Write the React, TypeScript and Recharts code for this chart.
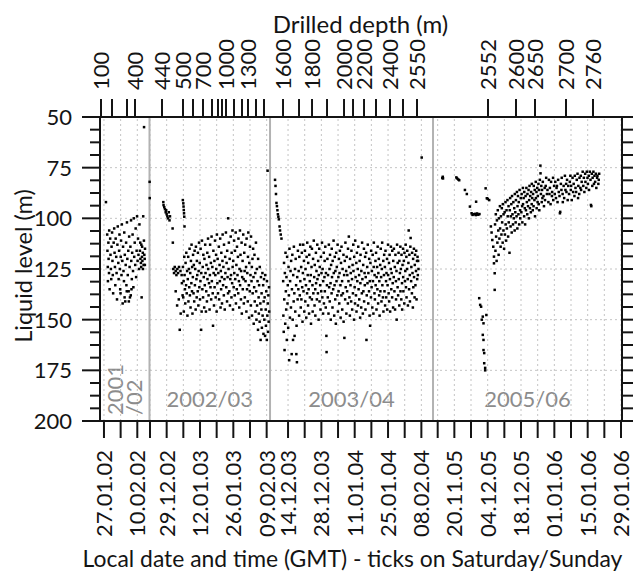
import React from 'react';
import { ScatterChart, Scatter, XAxis, YAxis, ReferenceLine, ReferenceArea } from 'recharts';

const FONT = 'Lato, "Open Sans", "DejaVu Sans", sans-serif';
const INK = '#141414';
const GRID = '#c4c4c4';
const SEP = '#b2b2b2';
const SEASON_INK = '#8c8c8c';
const DAY = 86400000;

// Plotted time windows of the four drilling seasons (UTC)
const seasonNames = ['2001/02', '2002/03', '2003/04', '2005/06'];
const seasonStarts = [Date.UTC(2002, 0, 25, 8), Date.UTC(2002, 11, 21, 19), Date.UTC(2003, 11, 6, 10, 30), Date.UTC(2005, 10, 11, 1)];
const seasonEnds = [Date.UTC(2002, 1, 15, 3), Date.UTC(2003, 1, 10, 10), Date.UTC(2004, 1, 12, 21, 30), Date.UTC(2006, 0, 29, 10)];

// Weekly ticks (Saturday/Sunday midnight) and the ones that carry a label
const weeklyTicks = ['27.01.02', '03.02.02', '10.02.02', '22.12.02', '29.12.02', '05.01.03', '12.01.03', '19.01.03', '26.01.03', '02.02.03', '09.02.03', '14.12.03', '21.12.03', '28.12.03', '04.01.04', '11.01.04', '18.01.04', '25.01.04', '01.02.04', '08.02.04', '13.11.05', '20.11.05', '27.11.05', '04.12.05', '11.12.05', '18.12.05', '25.12.05', '01.01.06', '08.01.06', '15.01.06', '22.01.06', '29.01.06'];
const labeledDates = ['27.01.02', '10.02.02', '29.12.02', '12.01.03', '26.01.03', '09.02.03', '14.12.03', '28.12.03', '11.01.04', '25.01.04', '08.02.04', '20.11.05', '04.12.05', '18.12.05', '01.01.06', '15.01.06', '29.01.06'];

// Drilled depth (m) reached: season index and day within the season window
const depthValues = [100, 200, 300, 400, 440, 500, 600, 700, 800, 900, 950, 1000, 1100, 1200, 1300, 1400, 1500, 1600, 1700, 1800, 1900, 2000, 2100, 2200, 2300, 2400, 2500, 2550, 2552, 2600, 2650, 2700, 2760];
const depthSeason = [0, 0, 0, 0, 1, 1, 1, 1, 1, 1, 1, 1, 1, 1, 1, 1, 1, 2, 2, 2, 2, 2, 2, 2, 2, 2, 2, 2, 3, 3, 3, 3, 3];
const depthDay = [0.42, 5.04, 11.34, 14.7, 5.25, 14.07, 18.27, 22.47, 26.25, 28.77, 30.45, 32.13, 35.49, 38.85, 41.37, 44.73, 48.09, 5.46, 12.18, 17.64, 23.94, 31.08, 34.86, 39.48, 44.52, 50.4, 55.86, 61.74, 23.1, 34.86, 42.84, 55.86, 67.2];
const labeledDepths = [100, 400, 440, 500, 700, 1000, 1300, 1600, 1800, 2000, 2200, 2400, 2550, 2552, 2600, 2650, 2700, 2760];

// Liquid level axis
const levelMajorTicks = [50, 75, 100, 125, 150, 175, 200];
const levelMinorDivisions = 4;

// Measurements: [day within season window, liquid level (m)]
const season1Points: [number, number][] = [
  [2.5, 92],
  [3.02, 108], [3.13, 116], [3.27, 124], [3.33, 131], [3.52, 112], [3.61, 120], [3.78, 127], [3.86, 106], [4.04, 135],
  [4.27, 110], [4.41, 118], [4.58, 125], [4.72, 130], [4.86, 114], [5.08, 107], [5.23, 121], [5.37, 128], [5.52, 137], [5.74, 112],
  [5.96, 105], [6.12, 117], [6.27, 124], [6.43, 133], [6.58, 110], [6.81, 119], [6.97, 127], [7.14, 140], [7.31, 113], [7.46, 104],
  [7.69, 122], [7.83, 130], [8.02, 116], [8.17, 108], [8.33, 125], [8.48, 135], [8.62, 137], [8.71, 119], [8.84, 111], [9.03, 128], [9.18, 103],
  [9.37, 121], [9.52, 142], [9.68, 114], [9.87, 126], [10.06, 131], [10.19, 107], [10.33, 139], [10.42, 118], [10.61, 141], [10.79, 123], [10.97, 112],
  [11.09, 133], [11.24, 136], [11.32, 102], [11.48, 120], [11.66, 128], [11.88, 116], [12.03, 136], [12.11, 141], [12.24, 109], [12.43, 124], [12.58, 139], [12.77, 114], [12.92, 138],
  [13.04, 101], [13.13, 121], [13.22, 135], [13.36, 130], [13.51, 117], [13.69, 108], [13.87, 126], [14.02, 134], [14.18, 100], [14.37, 119], [14.58, 112],
  [14.79, 123], [14.98, 105], [15.17, 129], [15.38, 116], [15.57, 99], [15.79, 121], [15.97, 110], [16.16, 118], [16.38, 125], [16.57, 103],
  [16.77, 116], [16.96, 120], [17.18, 122], [17.36, 113], [17.49, 139], [17.63, 119], [17.81, 121], [17.97, 117], [18.15, 99], [18.31, 123], [18.5, 55], [18.62, 118], [18.77, 120], [18.9, 115],
  [16.9, 112], [17.3, 124], [17.7, 114], [18.05, 125], [18.45, 111], [18.85, 123],
];

const season2Points: [number, number][] = [
  [0.05, 82], [0.1, 90],
  [5.8, 92], [5.9, 93.5], [6.2, 94.5], [6.5, 95.5], [6.8, 97], [7.0, 96], [7.2, 98], [7.5, 99], [7.8, 100], [8.1, 97], [8.4, 101], [8.6, 99],
  [9.7, 105], [9.8, 112],
  [10.0, 125], [10.3, 127], [10.6, 124], [11.0, 126], [11.3, 128], [11.7, 125], [12.0, 127], [12.4, 124], [13.0, 126], [13.5, 128],
  [11.0, 136], [11.6, 143], [12.3, 140], [12.7, 155], [13.1, 147], [13.6, 132], [13.9, 138],
  [14.0, 91], [14.2, 92.6], [14.3, 94.2], [14.4, 95.9], [14.5, 97.5], [14.6, 99.2], [14.7, 104],
  [14.05, 124], [14.18, 139], [14.33, 131], [14.41, 146], [14.6, 119], [14.74, 128], [14.88, 135],
  [15.02, 142], [15.15, 122], [15.37, 133], [15.46, 117], [15.63, 137], [15.8, 126], [15.93, 148],
  [16.08, 130], [16.26, 119], [16.35, 141], [16.52, 125], [16.69, 134], [16.83, 115], [16.97, 138],
  [17.11, 127], [17.24, 144], [17.4, 121], [17.58, 132], [17.66, 113], [17.85, 136], [17.92, 124],
  [18.04, 147], [18.21, 129], [18.3, 118], [18.49, 137], [18.62, 123], [18.78, 141], [18.95, 116],
  [19.07, 133], [19.19, 125], [19.38, 145], [19.5, 114], [19.71, 130], [19.82, 139], [19.9, 121],
  [20.06, 128], [20.25, 136], [20.33, 117], [20.52, 143], [20.64, 126], [20.8, 112], [20.94, 134],
  [21.1, 122], [21.21, 140], [21.39, 131], [21.47, 115], [21.68, 155], [21.75, 127], [21.9, 146],
  [22.03, 111], [22.2, 135], [22.36, 124], [22.5, 139], [22.61, 118], [22.79, 129], [22.97, 144],
  [23.08, 120], [23.22, 133], [23.4, 113], [23.53, 127], [23.7, 146], [23.84, 136], [23.93, 123],
  [24.12, 141], [24.28, 117], [24.35, 130], [24.58, 110], [24.66, 125], [24.81, 138], [24.99, 132],
  [25.05, 119], [25.23, 145], [25.37, 128], [25.46, 113], [25.61, 134], [25.78, 122], [25.9, 140],
  [26.07, 109], [26.19, 131], [26.4, 124], [26.55, 137], [26.68, 153], [26.83, 116], [26.94, 127],
  [27.09, 143], [27.26, 121], [27.34, 134], [27.51, 111], [27.65, 128], [27.8, 139], [27.97, 118],
  [28.04, 125], [28.2, 146], [28.31, 108], [28.5, 132], [28.62, 120], [28.77, 137], [28.9, 127],
  [29.12, 114], [29.25, 140], [29.43, 123], [29.56, 131], [29.69, 110], [29.84, 144], [29.96, 126],
  [30.08, 135], [30.17, 117], [30.38, 129], [30.45, 142], [30.64, 121], [30.72, 108], [30.91, 133],
  [31.03, 124], [31.22, 138], [31.29, 113], [31.48, 130], [31.6, 145], [31.79, 119], [31.88, 127],
  [32.1, 107], [32.24, 134], [32.39, 122], [32.57, 141], [32.63, 116], [32.8, 129], [32.98, 137],
  [33.06, 100], [33.2, 125], [33.33, 112], [33.52, 136], [33.67, 120], [33.79, 143], [33.94, 130],
  [34.11, 109], [34.23, 128], [34.42, 139], [34.5, 117], [34.7, 132], [34.84, 106], [34.92, 124],
  [35.07, 145], [35.16, 121], [35.35, 134], [35.53, 111], [35.61, 127], [35.82, 138], [35.9, 116],
  [36.02, 130], [36.2, 107], [36.31, 142], [36.49, 123], [36.66, 135], [36.75, 114], [36.96, 128],
  [37.13, 119], [37.28, 137], [37.36, 110], [37.55, 131], [37.7, 144], [37.81, 125], [37.99, 106],
  [38.05, 133], [38.22, 118], [38.4, 140], [38.47, 126], [38.68, 112], [38.77, 147], [38.93, 129],
  [39.1, 121], [39.18, 135], [39.37, 108], [39.53, 130], [39.62, 142], [39.8, 117], [39.95, 126],
  [40.04, 139], [40.21, 113], [40.33, 131], [40.56, 124], [40.69, 146], [40.78, 110], [40.97, 135],
  [41.08, 127], [41.27, 141], [41.35, 119], [41.5, 107], [41.71, 133], [41.83, 149], [41.91, 122],
  [42.12, 136], [42.2, 114], [42.41, 128], [42.58, 143], [42.64, 109], [42.85, 131], [42.99, 124],
  [43.06, 148], [43.25, 120], [43.33, 137], [43.52, 115], [43.68, 129], [43.77, 152], [43.96, 134],
  [44.09, 118], [44.2, 141], [44.44, 127], [44.5, 146], [44.71, 112], [44.8, 136], [44.93, 150],
  [45.11, 125], [45.19, 143], [45.38, 131], [45.57, 155], [45.62, 120], [45.83, 139], [45.92, 147],
  [46.03, 133], [46.26, 151], [46.32, 124], [46.55, 142], [46.67, 160], [46.8, 129], [46.98, 145],
  [47.08, 137], [47.2, 154], [47.43, 127], [47.51, 148], [47.73, 133], [47.86, 157], [47.95, 141],
  [48.1, 130], [48.23, 150], [48.36, 139], [48.54, 158], [48.61, 128], [48.82, 145], [48.9, 153],
  [49.05, 136], [49.27, 160], [49.33, 131], [49.49, 148], [49.68, 142], [49.77, 156], [49.92, 138],
  [50.05, 151], [50.18, 134], [50.26, 146],
  [49.6, 76.5],
];

const season3Points: [number, number][] = [
  [2.1, 81], [2.3, 84], [2.5, 88], [2.7, 92.4], [2.9, 94], [3.1, 96], [3.3, 98], [3.5, 99.2], [3.7, 100.5], [4.0, 104], [4.2, 106], [4.5, 108], [4.8, 110],
  [5.52, 131], [5.6, 148], [5.75, 156], [5.88, 122], [5.97, 140],
  [6.1, 165], [6.23, 127], [6.38, 152], [6.5, 117], [6.64, 136], [6.79, 145], [6.9, 129],
  [7.05, 160], [7.18, 119], [7.33, 142], [7.45, 133], [7.62, 154], [7.77, 124], [7.93, 138],
  [8.04, 170], [8.16, 115], [8.35, 149], [8.44, 131], [8.61, 126], [8.78, 144], [8.86, 121],
  [9.09, 167], [9.2, 135], [9.37, 118], [9.52, 150], [9.66, 160], [9.74, 128], [9.93, 141],
  [10.02, 114], [10.2, 137], [10.31, 158], [10.48, 125], [10.6, 146], [10.77, 120], [10.95, 133],
  [11.05, 167], [11.14, 153], [11.29, 171], [11.42, 129], [11.58, 140], [11.7, 116], [11.89, 135],
  [12.03, 126], [12.21, 148], [12.3, 119], [12.49, 138], [12.65, 113], [12.72, 131], [12.91, 144],
  [13.08, 124], [13.17, 140], [13.36, 117], [13.5, 134], [13.64, 151], [13.8, 127], [13.93, 113],
  [14.06, 136], [14.24, 121], [14.39, 146], [14.45, 130], [14.66, 116], [14.81, 141], [14.9, 125],
  [15.1, 133], [15.22, 149], [15.37, 119], [15.56, 137], [15.63, 112], [15.83, 128], [15.97, 143],
  [16.04, 122], [16.21, 135], [16.4, 147], [16.48, 118], [16.69, 131], [16.75, 139], [16.94, 114],
  [17.11, 128], [17.2, 152], [17.43, 124], [17.57, 140], [17.6, 115], [17.82, 133], [17.91, 146],
  [18.08, 120], [18.19, 137], [18.37, 111], [18.55, 129], [18.7, 143], [18.78, 123], [18.99, 135],
  [19.03, 148], [19.27, 117], [19.35, 132], [19.51, 126], [19.67, 140], [19.84, 113], [19.92, 130],
  [20.12, 137], [20.21, 121], [20.4, 150], [20.46, 128], [20.65, 115], [20.79, 141], [20.88, 124],
  [21.06, 133], [21.19, 145], [21.38, 119], [21.5, 136], [21.61, 127], [21.83, 112], [21.97, 139],
  [22.09, 125], [22.28, 147], [22.33, 131], [22.57, 117], [22.64, 142], [22.86, 129], [22.94, 121],
  [23.02, 136], [23.21, 114], [23.4, 144], [23.48, 127], [23.67, 158], [23.75, 166], [23.9, 133],
  [24.1, 120], [24.25, 139], [24.36, 128], [24.55, 147], [24.7, 113], [24.83, 134], [24.98, 125],
  [25.07, 141], [25.2, 118], [25.42, 132], [25.51, 150], [25.66, 123], [25.85, 137], [25.91, 115],
  [26.04, 129], [26.23, 144], [26.31, 121], [26.52, 135], [26.69, 111], [26.77, 127], [26.96, 148],
  [27.11, 133], [27.18, 119], [27.39, 140], [27.45, 126], [27.64, 152], [27.8, 117], [27.92, 131],
  [28.05, 124], [28.26, 138], [28.38, 113], [28.51, 146], [28.7, 129], [28.79, 136], [28.93, 120],
  [29.08, 142], [29.2, 127], [29.35, 116], [29.57, 133], [29.65, 149], [29.81, 122], [29.98, 138],
  [30.02, 114], [30.27, 131], [30.33, 145], [30.48, 125], [30.62, 137], [30.84, 118], [30.9, 151],
  [31.13, 128], [31.22, 159], [31.4, 121], [31.55, 140], [31.66, 112], [31.78, 134], [31.97, 126],
  [32.06, 147], [32.2, 119], [32.38, 136], [32.46, 128], [32.69, 142], [32.75, 115], [32.94, 131],
  [33.1, 109], [33.23, 124], [33.34, 139], [33.53, 148], [33.61, 120], [33.8, 133], [33.89, 127],
  [34.07, 141], [34.19, 116], [34.43, 130], [34.5, 145], [34.68, 123], [34.82, 137], [34.96, 113],
  [35.04, 126], [35.28, 150], [35.36, 119], [35.54, 134], [35.7, 142], [35.77, 111], [35.93, 129],
  [36.11, 138], [36.24, 122], [36.32, 146], [36.49, 117], [36.66, 131], [36.85, 125], [36.92, 143],
  [37.06, 114], [37.2, 135], [37.41, 128], [37.47, 140], [37.63, 121], [37.84, 149], [37.95, 132],
  [38.02, 118], [38.29, 144], [38.35, 126], [38.56, 137], [38.67, 112], [38.79, 130], [38.98, 147],
  [39.13, 123], [39.21, 136], [39.44, 115], [39.52, 141], [39.71, 127], [39.8, 133], [39.94, 119],
  [40.08, 145], [40.19, 129], [40.37, 117], [40.5, 160], [40.62, 138], [40.81, 124], [40.93, 132],
  [41.05, 113], [41.26, 142], [41.31, 127], [41.58, 136], [41.64, 120], [41.82, 148], [41.9, 131],
  [42.03, 153], [42.17, 122], [42.39, 139], [42.47, 116], [42.66, 134], [42.78, 126], [42.95, 144],
  [43.12, 118], [43.23, 131], [43.42, 147], [43.55, 124], [43.6, 112], [43.86, 137], [43.92, 128],
  [44.05, 140], [44.28, 121], [44.36, 133], [44.53, 117], [44.71, 145], [44.77, 129], [44.98, 124],
  [45.09, 135], [45.21, 114], [45.4, 142], [45.49, 127], [45.68, 120], [45.83, 138], [45.9, 131],
  [46.02, 148], [46.27, 123], [46.35, 136], [46.51, 115], [46.66, 129], [46.8, 141], [46.97, 125],
  [47.1, 112], [47.18, 133], [47.42, 139], [47.57, 121], [47.63, 146], [47.85, 128], [47.94, 118],
  [48.07, 136], [48.24, 124], [48.33, 143], [48.5, 116], [48.72, 131], [48.8, 139], [48.91, 127],
  [49.14, 120], [49.2, 145], [49.38, 133], [49.56, 113], [49.61, 128], [49.82, 137], [49.97, 122],
  [50.04, 141], [50.22, 118], [50.37, 130], [50.45, 146], [50.7, 125], [50.76, 114], [50.93, 135],
  [51.08, 127], [51.29, 139], [51.34, 116], [51.52, 132], [51.69, 144], [51.75, 121], [51.96, 129],
  [52.03, 115], [52.25, 136], [52.4, 124], [52.51, 145], [52.67, 118], [52.88, 131], [52.92, 140],
  [53.11, 126], [53.19, 150], [53.36, 113], [53.58, 134], [53.62, 122], [53.8, 138], [53.99, 117],
  [54.06, 130], [54.28, 143], [54.32, 121], [54.55, 127], [54.74, 114], [54.79, 136], [54.95, 125],
  [55.13, 140], [55.22, 118], [55.43, 132], [55.5, 145], [55.66, 123], [55.87, 115], [55.93, 129],
  [56.01, 136], [56.2, 121], [56.39, 142], [56.47, 117], [56.68, 131], [56.82, 126], [56.97, 113],
  [57.09, 134], [57.26, 119], [57.33, 139], [57.58, 125], [57.64, 116], [57.83, 130], [57.91, 143],
  [58.12, 122], [58.24, 106], [58.41, 135], [58.52, 118], [58.7, 128], [58.76, 141], [58.94, 114],
  [59.05, 109.7], [59.27, 131], [59.36, 124], [59.59, 137], [59.68, 117], [59.84, 127], [59.99, 144],
  [60.1, 120], [60.18, 134], [60.43, 115], [60.49, 129], [60.71, 139], [60.8, 123], [60.92, 118],
  [61.07, 133], [61.3, 126], [61.39, 116], [61.54, 140], [61.73, 121], [61.81, 130], [61.96, 119],
  [62.08, 128], [62.21, 121], [62.35, 125],
  [63.7, 70],
];

const season4Points: [number, number][] = [
  [3.9, 80.1], [4.1, 79.5], [4.2, 80.3],
  [9.8, 79.8], [10.1, 80.3], [10.6, 80.8], [11.0, 81.2],
  [13.4, 86], [14.2, 88], [15.5, 94.2],
  [16.2, 97.5], [16.6, 98.3], [17.1, 98], [17.6, 97.8], [18.0, 98.4], [18.1, 91.8], [18.5, 97.6], [19.0, 98.2], [19.5, 97.9],
  [19.4, 139.4], [19.8, 142.7], [20.2, 143.6], [20.5, 150], [20.9, 148.5], [21.2, 151.8], [20.9, 157.5], [21.2, 160], [21.2, 165],
  [21.5, 166.5], [21.5, 171.5], [21.9, 173.8], [21.9, 175], [22.4, 147.7],
  [22.1, 85.2], [22.6, 90.1], [23.0, 90.4], [23.6, 91],
  [24.3, 104], [24.6, 107], [24.9, 110.7], [25.3, 114], [25.6, 118.9], [25.6, 122.2], [25.9, 127.1], [25.9, 135.3],
  [26.05, 103], [26.22, 116], [26.37, 98], [26.5, 109], [26.71, 121], [26.84, 101],
  [27.03, 112], [27.2, 96], [27.41, 106], [27.55, 118], [27.66, 100], [27.88, 110],
  [28.1, 94], [28.18, 105], [28.39, 114], [28.52, 99], [28.73, 108], [28.9, 95],
  [29.04, 102], [29.25, 112], [29.33, 93], [29.57, 106], [29.62, 98], [29.85, 115],
  [30.09, 97], [30.2, 108], [30.44, 92], [30.51, 103], [30.7, 111], [30.87, 96],
  [31.02, 105], [31.26, 91], [31.37, 99], [31.55, 109], [31.72, 94], [31.8, 102],
  [32.12, 117], [32.25, 96], [32.4, 90], [32.58, 104], [32.67, 99], [32.89, 93],
  [33.05, 107], [33.19, 89], [33.38, 98], [33.6, 103], [33.74, 92], [33.91, 100],
  [34.11, 95], [34.29, 106], [34.36, 88], [34.56, 97], [34.7, 102], [34.82, 91],
  [35.08, 99], [35.24, 87], [35.42, 105], [35.49, 94], [35.68, 89], [35.87, 98],
  [36.02, 92], [36.18, 103], [36.35, 86], [36.57, 96], [36.63, 100], [36.85, 90],
  [37.1, 97], [37.22, 88], [37.43, 94], [37.52, 102], [37.74, 85], [37.81, 93],
  [38.06, 90], [38.27, 99], [38.33, 87], [38.55, 95], [38.69, 103], [38.88, 89],
  [39.03, 96], [39.21, 85], [39.4, 92], [39.58, 98], [39.67, 88], [39.9, 94],
  [40.12, 86], [40.26, 100], [40.38, 91], [40.53, 84], [40.71, 95], [40.83, 89],
  [41.09, 97], [41.2, 87], [41.44, 93], [41.5, 83], [41.66, 90], [41.89, 96],
  [42.04, 88], [42.23, 94], [42.31, 84], [42.59, 91], [42.72, 86], [42.84, 99],
  [43.14, 82], [43.22, 90], [43.45, 87], [43.53, 95], [43.77, 85], [43.92, 92],
  [44.02, 89], [44.28, 83], [44.39, 93], [44.56, 86], [44.65, 96], [44.87, 81],
  [45.1, 74], [45.15, 77.8], [45.31, 88], [45.48, 84], [45.66, 92], [45.79, 86], [45.95, 90],
  [46.12, 82], [46.41, 89], [46.6, 94], [46.9, 85],
  [47.05, 91], [47.33, 84], [47.52, 80], [47.83, 88],
  [48.08, 86], [48.45, 92], [48.68, 81], [48.89, 88],
  [49.1, 85], [49.37, 93], [49.59, 82], [49.94, 89],
  [50.03, 87], [50.42, 80], [50.5, 91], [50.86, 84],
  [51.13, 88], [51.36, 82], [51.64, 90], [51.88, 85],
  [52.06, 84], [52.3, 92], [52.55, 81], [52.81, 87],
  [53.12, 89], [53.3, 97.5], [53.42, 96.8], [53.7, 83], [53.93, 86],
  [54.05, 80], [54.43, 88], [54.51, 92], [54.86, 84],
  [55.09, 90], [55.39, 79], [55.62, 86], [55.91, 83],
  [56.04, 87], [56.29, 81], [56.56, 91], [56.8, 84],
  [57.14, 88], [57.46, 82], [57.69, 79], [57.87, 86],
  [58.01, 84], [58.27, 91], [58.6, 80], [58.85, 87],
  [59.08, 83], [59.4, 89], [59.55, 79], [59.84, 85],
  [60.11, 87], [60.37, 81], [60.69, 78], [60.92, 90],
  [61.03, 84], [61.41, 88], [61.52, 80], [61.89, 85],
  [62.07, 79], [62.2, 86], [62.44, 82], [62.86, 77],
  [63.12, 84], [63.35, 80], [63.57, 87], [63.9, 78],
  [64.02, 82], [64.38, 85], [64.6, 77], [64.88, 80],
  [65.06, 83], [65.45, 79], [65.53, 86], [65.85, 77],
  [66.14, 81], [66.33, 93.4], [66.48, 94], [66.69, 78], [66.9, 84],
  [67.04, 80], [67.37, 77], [67.6, 83], [67.82, 79],
  [68.1, 82], [68.41, 78], [68.59, 85], [68.92, 80],
  [69.05, 79], [69.44, 83], [69.6, 81], [69.79, 78],
];

// ---- derived axis mapping (broken time axis: seasons placed side by side) ----
const seasonLengths = seasonStarts.map((s, i) => (seasonEnds[i] - s) / DAY);
const seasonOffsets = seasonLengths.map((_, i) => seasonLengths.slice(0, i).reduce((a, b) => a + b, 0));
const totalDays = seasonLengths.reduce((a, b) => a + b, 0);

const dateToAxis = (s: string) => {
  const [dd, mm, yy] = s.split('.').map(Number);
  const t = Date.UTC(2000 + yy, mm - 1, dd);
  const i = seasonStarts.findIndex((st, k) => t >= st && t <= seasonEnds[k]);
  return seasonOffsets[i] + (t - seasonStarts[i]) / DAY;
};

const weeklyTickAxis = weeklyTicks.map(dateToAxis);
const depthTickAxis = depthValues.map((_, i) => seasonOffsets[depthSeason[i]] + depthDay[i]);
const boundaries = seasonOffsets.slice(1);

const levelTicks: number[] = [];
levelMajorTicks.forEach((v, i) => {
  levelTicks.push(v);
  if (i < levelMajorTicks.length - 1) {
    const step = (levelMajorTicks[i + 1] - v) / levelMinorDivisions;
    for (let k = 1; k < levelMinorDivisions; k++) levelTicks.push(v + k * step);
  }
});
const gridLevels = levelMajorTicks.slice(1, -1);

const allSeasons = [season1Points, season2Points, season3Points, season4Points];
const points = allSeasons.flatMap((pts, i) => pts.map(([d, v]) => ({ u: seasonOffsets[i] + d, level: v })));
const frame = [{ u: 0, level: 50 }, { u: totalDays, level: 200 }];

const findIndex = (arr: number[], v: number) => {
  let best = 0;
  arr.forEach((a, i) => { if (Math.abs(a - v) < Math.abs(arr[best] - v)) best = i; });
  return best;
};

const textStyle = { fontFamily: FONT, fill: INK };

function LeftTick(props: any) {
  const { x, y, payload } = props;
  const major = levelMajorTicks.includes(payload.value);
  return (
    <g>
      <line x1={x - (major ? 18 : 10)} x2={x} y1={y} y2={y} stroke={INK} strokeWidth={2} />
      {major && (
        <text x={x - 28} y={y} dy="0.36em" textAnchor="end" fontSize={22} {...textStyle}>{payload.value}</text>
      )}
    </g>
  );
}

function RightTick(props: any) {
  const { x, y, payload } = props;
  const major = levelMajorTicks.includes(payload.value);
  return <line x1={x} x2={x + (major ? 18 : 13)} y1={y} y2={y} stroke={INK} strokeWidth={2} />;
}

function BottomTick(props: any) {
  const { x, y, payload } = props;
  const date = weeklyTicks[findIndex(weeklyTickAxis, payload.value)];
  const show = labeledDates.includes(date);
  const ty = y + 29;
  return (
    <g>
      <line x1={x} x2={x} y1={y} y2={y + 17} stroke={INK} strokeWidth={2} />
      {show && (
        <text x={x} y={ty} dy="0.36em" textAnchor="end" transform={`rotate(-90 ${x} ${ty})`} fontSize={22} {...textStyle}>{date}</text>
      )}
    </g>
  );
}

function TopTick(props: any) {
  const { x, y, payload } = props;
  const depth = depthValues[findIndex(depthTickAxis, payload.value)];
  const show = labeledDepths.includes(depth);
  const ty = y - 27;
  return (
    <g>
      <line x1={x} x2={x} y1={y} y2={y - 18} stroke={INK} strokeWidth={2} />
      {show && (
        <text x={x} y={ty} dy="0.36em" textAnchor="start" transform={`rotate(-90 ${x} ${ty})`} fontSize={22} {...textStyle}>{depth}</text>
      )}
    </g>
  );
}

function BottomTitle(props: any) {
  const vb = props.viewBox || { x: 92, y: 413, width: 522, height: 150 };
  return (
    <text x={vb.x + 252.5} y={vb.y + 145.5} textAnchor="middle" fontSize={22.9} {...textStyle}>
      Local date and time (GMT) - ticks on Saturday/Sunday
    </text>
  );
}

function TopTitle(props: any) {
  const vb = props.viewBox || { x: 92, y: 0, width: 522, height: 109 };
  return (
    <text x={vb.x + 260.5} y={vb.y + 25} textAnchor="middle" fontSize={24} {...textStyle}>Drilled depth (m)</text>
  );
}

function LeftTitle(props: any) {
  const vb = props.viewBox || { x: 0, y: 109, width: 92, height: 304 };
  const cx = vb.x + 24;
  const cy = vb.y + vb.height / 2 - 3;
  return (
    <text x={cx} y={cy} textAnchor="middle" transform={`rotate(-90 ${cx} ${cy})`} fontSize={23.5} {...textStyle}>Liquid level (m)</text>
  );
}

function SeasonLabel(props: any) {
  const vb = props.viewBox;
  const name: string = props.name;
  if (!vb) return null;
  const style = { fontFamily: FONT, fill: SEASON_INK, fontSize: 22 };
  if (props.split) {
    const [a, b] = name.split('/');
    const by = vb.y + vb.height - 6;
    const x1 = vb.x + 23;
    const x2 = vb.x + 42;
    return (
      <g>
        <text x={x1} y={by} textAnchor="start" transform={`rotate(-90 ${x1} ${by})`} {...style}>{a}</text>
        <text x={x2} y={by} textAnchor="start" transform={`rotate(-90 ${x2} ${by})`} {...style}>{'/' + b}</text>
      </g>
    );
  }
  return (
    <text x={vb.x + vb.width / 2} y={vb.y + vb.height - 14} textAnchor="middle" {...style}>{name}</text>
  );
}

const Dot = (props: any) => {
  const { cx, cy } = props;
  if (cx == null || cy == null) return <g />;
  return <rect x={cx - 1.25} y={cy - 1.25} width={2.5} height={2.5} fill="#000" />;
};

export default function App() {
  return (
    <ScatterChart width={633} height={563} margin={{ top: 0, right: 0, bottom: 0, left: 0 }} style={{ fontFamily: FONT }}>
      <XAxis
        xAxisId="b" dataKey="u" type="number" orientation="bottom" domain={[0, totalDays]} allowDataOverflow
        ticks={weeklyTickAxis} interval={0} height={150} tickSize={0} tickMargin={0} tickLine={false}
        axisLine={{ stroke: INK, strokeWidth: 2 }} tick={<BottomTick />} label={<BottomTitle />}
      />
      <XAxis
        xAxisId="t" dataKey="u" type="number" orientation="top" domain={[0, totalDays]} allowDataOverflow
        ticks={depthTickAxis} interval={0} height={109} tickSize={0} tickMargin={0} tickLine={false}
        axisLine={{ stroke: INK, strokeWidth: 2 }} tick={<TopTick />} label={<TopTitle />}
      />
      <YAxis
        yAxisId="l" dataKey="level" type="number" orientation="left" domain={[50, 200]} reversed allowDataOverflow
        ticks={levelTicks} interval={0} width={92} tickSize={0} tickMargin={0} tickLine={false}
        axisLine={{ stroke: INK, strokeWidth: 2 }} tick={<LeftTick />} label={<LeftTitle />}
      />
      <YAxis
        yAxisId="r" dataKey="level" type="number" orientation="right" domain={[50, 200]} reversed allowDataOverflow
        ticks={levelTicks} interval={0} width={19} tickSize={0} tickMargin={0} tickLine={false}
        axisLine={{ stroke: INK, strokeWidth: 2 }} tick={<RightTick />}
      />
      {gridLevels.map((v) => (
        <ReferenceLine key={'h' + v} xAxisId="b" yAxisId="l" y={v} stroke={GRID} strokeWidth={1} strokeDasharray="2 3" />
      ))}
      {weeklyTickAxis.map((u, i) => (
        <ReferenceLine key={'v' + i} xAxisId="b" yAxisId="l" x={u} stroke={GRID} strokeWidth={1} strokeDasharray="2 3" />
      ))}
      {boundaries.map((u, i) => (
        <ReferenceLine key={'s' + i} xAxisId="b" yAxisId="l" x={u} stroke={SEP} strokeWidth={2} />
      ))}
      {seasonNames.map((name, i) => (
        <ReferenceArea
          key={'a' + i} xAxisId="b" yAxisId="l" x1={seasonOffsets[i]} x2={seasonOffsets[i] + seasonLengths[i]}
          fill="none" fillOpacity={0} stroke="none" label={<SeasonLabel name={name} split={i === 0} />}
        />
      ))}
      <Scatter data={frame} xAxisId="t" yAxisId="r" shape={() => <g />} isAnimationActive={false} />
      <Scatter data={points} xAxisId="b" yAxisId="l" shape={<Dot />} isAnimationActive={false} />
    </ScatterChart>
  );
}
